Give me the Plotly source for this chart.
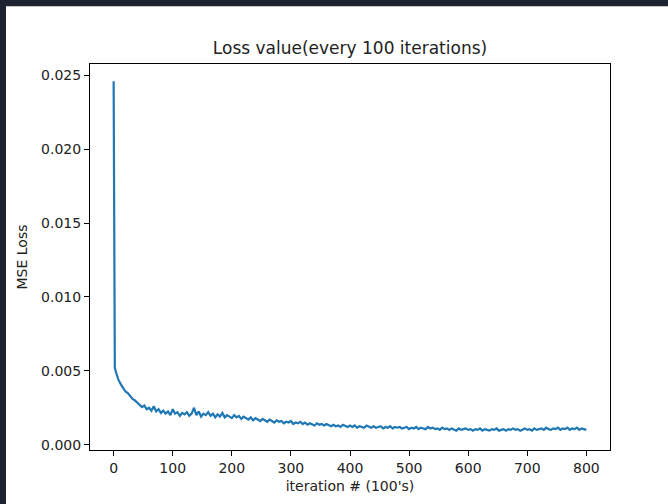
import plotly.graph_objects as go

# loss logged every 100 iterations (x axis in units of 100 iterations)
iters = [0, 1, 2] + list(range(4, 801, 4))

loss = [
    0.0246, 0.0058, 0.0052,
    0.00490, 0.00440, 0.00410, 0.00380, 0.00360, 0.00350, 0.00330, 0.00310, 0.00300, 0.00285,
    0.00270, 0.00255, 0.00265, 0.00240, 0.00250, 0.00230, 0.00260, 0.00225, 0.00240, 0.00215,
    0.00230, 0.00210, 0.00225, 0.00200, 0.00240, 0.00210, 0.00220, 0.00195, 0.00215, 0.00205,
    0.00220, 0.00195, 0.00210, 0.00250, 0.00200, 0.00225, 0.00190, 0.00210, 0.00200, 0.00220,
    0.00195, 0.00210, 0.00185, 0.00205, 0.00190, 0.00215, 0.00185, 0.00200, 0.00190, 0.00180,
    0.00200, 0.00185, 0.00195, 0.00175, 0.00190, 0.00180, 0.00170, 0.00185, 0.00165, 0.00180,
    0.00170, 0.00160, 0.00175, 0.00165, 0.00155, 0.00170, 0.00160, 0.00150, 0.00165, 0.00155,
    0.00160, 0.00145, 0.00155, 0.00150, 0.00160, 0.00140, 0.00150, 0.00145, 0.00155, 0.00140,
    0.00150, 0.00135, 0.00145, 0.00140, 0.00130, 0.00145, 0.00135, 0.00140, 0.00130, 0.00140,
    0.00130, 0.00125, 0.00135, 0.00125, 0.00130, 0.00120, 0.00135, 0.00125, 0.00120, 0.00130,
    0.00120, 0.00130, 0.00115, 0.00125, 0.00120, 0.00115, 0.00130, 0.00120, 0.00115, 0.00125,
    0.00115, 0.00120, 0.00125, 0.00110, 0.00120, 0.00115, 0.00125, 0.00110, 0.00120, 0.00115,
    0.00120, 0.00110, 0.00115, 0.00120, 0.00105, 0.00115, 0.00110, 0.00120, 0.00105, 0.00115,
    0.00110, 0.00105, 0.00120, 0.00110, 0.00115, 0.00105, 0.00110, 0.00100, 0.00115, 0.00105,
    0.00110, 0.00100, 0.00110, 0.00105, 0.00095, 0.00110, 0.00100, 0.00105, 0.00110, 0.00100,
    0.00105, 0.00095, 0.00105, 0.00100, 0.00110, 0.00095, 0.00105, 0.00100, 0.00095, 0.00105,
    0.00100, 0.00110, 0.00095, 0.00100, 0.00105, 0.00095, 0.00105, 0.00100, 0.00110, 0.00100,
    0.00105, 0.00095, 0.00105, 0.00110, 0.00100, 0.00105, 0.00095, 0.00110, 0.00100, 0.00105,
    0.00110, 0.00100, 0.00115, 0.00105, 0.00100, 0.00110, 0.00105, 0.00115, 0.00100, 0.00110,
    0.00105, 0.00115, 0.00100, 0.00110, 0.00105, 0.00115, 0.00100, 0.00110, 0.00105, 0.00100,
]
assert len(iters) == len(loss)

x_ticks = [0, 100, 200, 300, 400, 500, 600, 700, 800]
y_ticks = [0.000, 0.005, 0.010, 0.015, 0.020, 0.025]
y_tick_text = ["0.000", "0.005", "0.010", "0.015", "0.020", "0.025"]

font = "DejaVu Sans"
dark = "#1d2330"

fig = go.Figure(go.Scatter(
    x=iters, y=loss, mode="lines",
    line=dict(color="#1f77b4", width=2.2),
    showlegend=False,
))

axis_common = dict(
    showline=True, linecolor="black", linewidth=1, mirror=True,
    ticks="outside", ticklen=5, tickwidth=1, tickcolor="black",
    showgrid=False, zeroline=False,
    tickfont=dict(family=font, size=14, color="#222"),
)

fig.update_xaxes(
    range=[-40, 840], tickvals=x_ticks,
    title=dict(text="iteration # (100's)", font=dict(family=font, size=14, color="#222"), standoff=6),
    **axis_common,
)
fig.update_yaxes(
    range=[-0.00036, 0.02577], tickvals=y_ticks, ticktext=y_tick_text,
    title=dict(text="MSE Loss", font=dict(family=font, size=14, color="#222"), standoff=10),
    **axis_common,
)

# plot area in pixels: x 90..610, y 64..452
# dark window frame visible at the top and left of the screenshot
fig.add_shape(type="rect", xref="paper", yref="paper",
              x0=-0.2, x1=1.2, y0=(452 - 6) / 388, y1=1.2,
              fillcolor=dark, line=dict(width=0))
fig.add_shape(type="rect", xref="paper", yref="paper",
              x0=-0.2, x1=(6 - 90) / 520, y0=-0.2, y1=1.2,
              fillcolor=dark, line=dict(width=0))

fig.update_layout(
    width=668, height=504,
    margin=dict(l=90, r=58, t=64, b=52),
    paper_bgcolor="white", plot_bgcolor="white",
    title=dict(text="Loss value(every 100 iterations)", x=0.5, xref="paper",
               y=1 - 48 / 504, yref="container", yanchor="middle",
               font=dict(family=font, size=17, color="#222")),
)

fig.write_html("out.html", config={"displayModeBar": False},
               post_script="document.body.style.margin = '0px';")
